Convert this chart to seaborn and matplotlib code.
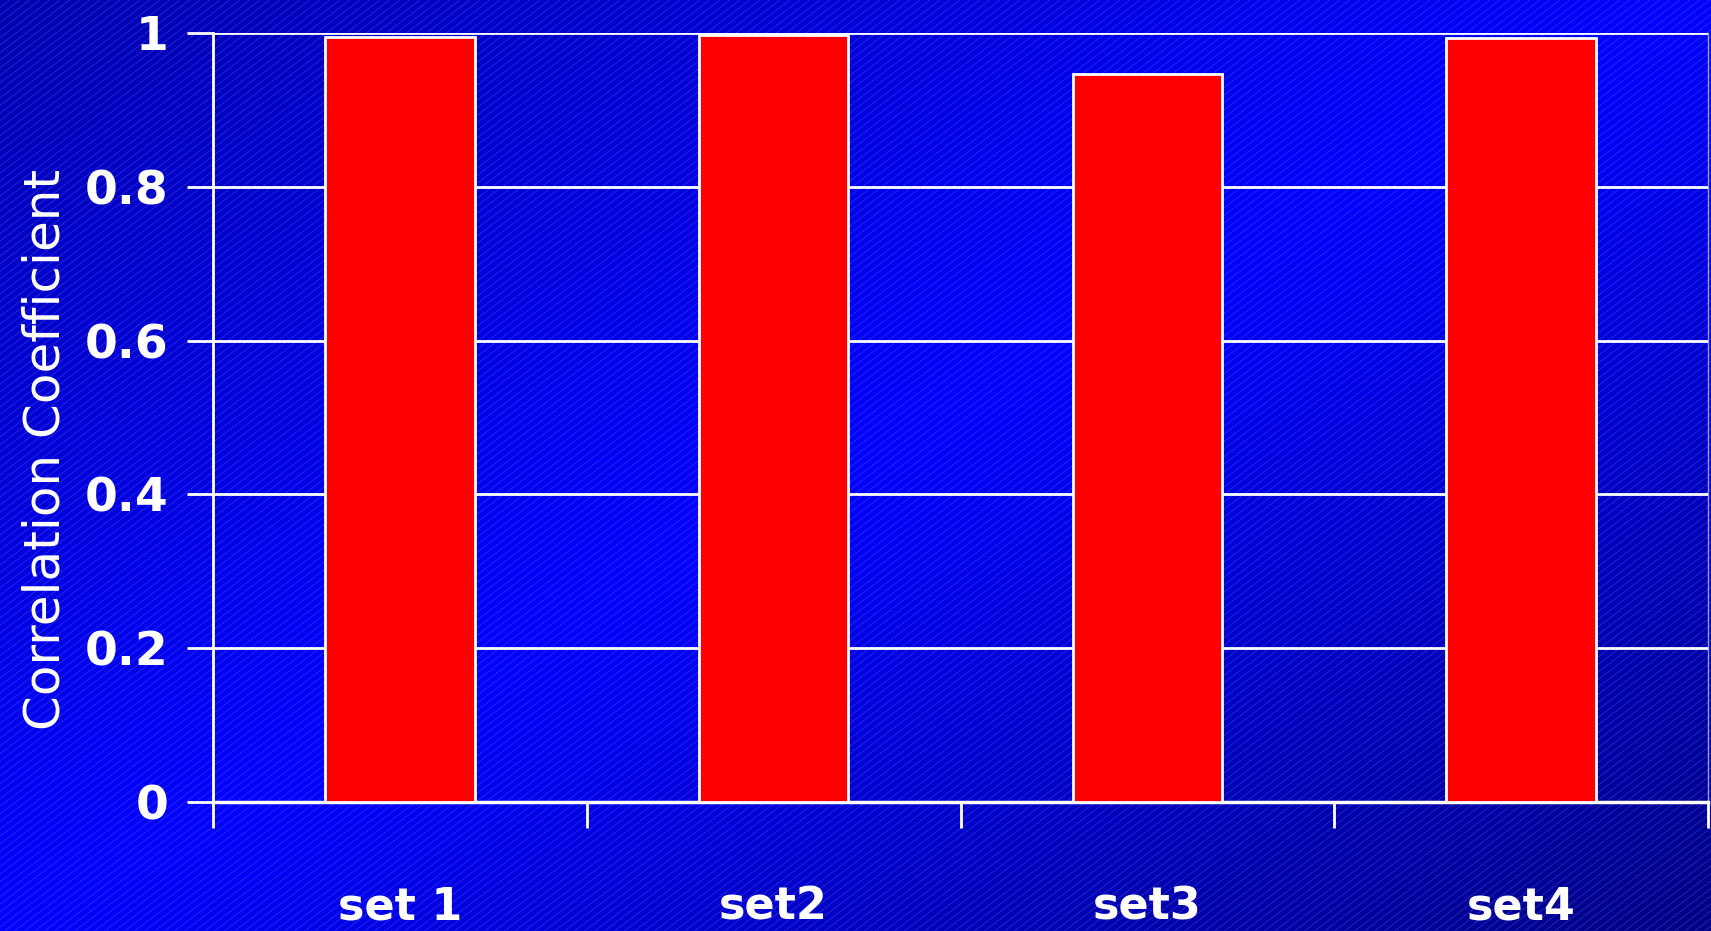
import numpy as np
import pandas as pd
import matplotlib
matplotlib.use("Agg")
import matplotlib.pyplot as plt
from matplotlib.collections import LineCollection
import seaborn as sns

# Correlation coefficient for each data set
categories = ["set 1", "set2", "set3", "set4"]
correlation = [0.995, 0.998, 0.947, 0.993]
y_ticks = [0, 0.2, 0.4, 0.6, 0.8, 1.0]
y_tick_labels = ["0", "0.2", "0.4", "0.6", "0.8", "1"]

df = pd.DataFrame({"set": categories, "r": correlation})

sns.set_theme(style="white")
plt.rcParams["font.family"] = ["DejaVu Sans"]

W, H = 1711, 931
fig = plt.figure(figsize=(W / 100, H / 100), dpi=100)

# Slide-style backdrop: diagonal blue gradient with fine light diagonal stripes
bg = fig.add_axes([0, 0, 1, 1], zorder=-10)
bg.set_axis_off()
xx, yy = np.meshgrid(np.linspace(0, 1, 400), np.linspace(0, 1, 220))
t = (xx + yy) / 2.0  # 0 at top-left, 1 at bottom-right
lo_a, peak, lo_b = 0.69, 1.0, 0.52
blue = np.where(t < 0.5, lo_a + (peak - lo_a) * (t / 0.5),
                peak + (lo_b - peak) * ((t - 0.5) / 0.5))
rgb = np.zeros(t.shape + (3,))
rgb[..., 2] = blue
bg.imshow(rgb, extent=[0, W, H, 0], aspect="auto", interpolation="bilinear")
bg.set_xlim(0, W)
bg.set_ylim(H, 0)
ang = np.deg2rad(37)
slope = np.tan(ang)
segs = []
for c in np.arange(-H / slope - 20, W + 20, 10):
    # line rising to the right on screen
    segs.append([(c, H), (c + H / slope, 0)])
bg.add_collection(LineCollection(segs, colors=(0.5, 0.55, 1.0, 0.28), linewidths=0.7))

# Main bar chart
ax = fig.add_axes([213 / W, 1 - 802 / H, (1708 - 213) / W, (802 - 33) / H])
ax.set_facecolor("none")
sns.barplot(data=df, x="set", y="r", color="#ff0000", saturation=1, width=0.4,
            edgecolor="white", linewidth=2, ax=ax, zorder=3)

ax.set_xlim(-0.5, 3.5)
ax.set_ylim(0, 1)

# category boundaries carry the tick marks, labels sit under bar centres
ax.set_xticks([-0.5, 0.5, 1.5, 2.5, 3.5])
ax.set_xticklabels([""] * 5)
ax.set_xticks(range(len(categories)), minor=True)
ax.set_xticklabels(categories, minor=True, fontsize=32, fontweight="bold", color="white")
ax.tick_params(axis="x", which="major", direction="out", length=19, width=2, color="white", bottom=True)
ax.tick_params(axis="x", which="minor", length=0, pad=60)

ax.set_yticks(y_ticks)
ax.set_yticklabels(y_tick_labels, fontsize=34, fontweight="bold", color="white")
ax.tick_params(axis="y", direction="out", length=19, width=2, color="white", pad=13, left=True)

ax.yaxis.grid(True, color="white", linewidth=2, zorder=1)
ax.xaxis.grid(False)
ax.set_axisbelow(True)

ax.spines["top"].set_visible(False)
ax.spines["left"].set_color("white")
ax.spines["left"].set_linewidth(2)
ax.spines["bottom"].set_color("white")
ax.spines["bottom"].set_linewidth(2.5)
ax.spines["right"].set_color((1, 1, 1, 0.6))
ax.spines["right"].set_linewidth(1)

ax.set_xlabel("")
ax.set_ylabel("Correlation Coefficient", fontsize=36, color="white")
ax.yaxis.set_label_coords((70 - 213) / (1708 - 213), 0.458)

fig.savefig("out.png", dpi=100)
